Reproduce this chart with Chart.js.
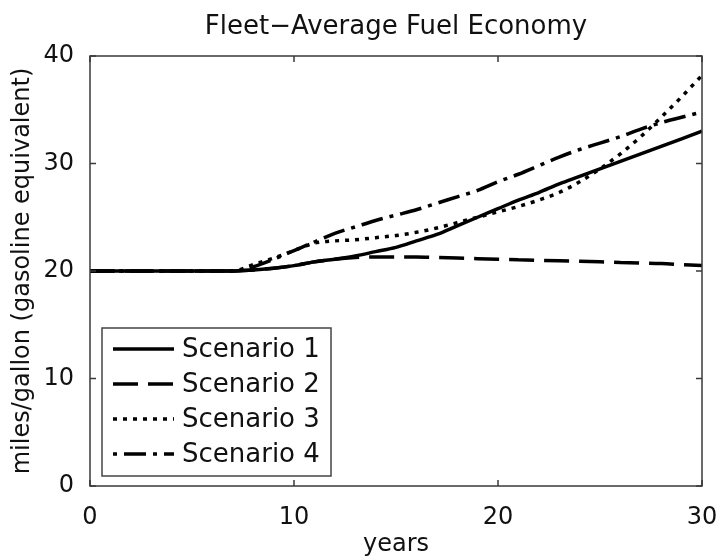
<!DOCTYPE html>
<html>
<head>
<meta charset="utf-8">
<script src="https://cdn.jsdelivr.net/npm/chart.js@4"></script>
<style>
  html, body { margin: 0; padding: 0; background: #fff; }
  #wrap { width: 720px; height: 560px; }
</style>
</head>
<body>
<div id="wrap"><canvas id="myChart" width="720" height="560"></canvas></div>
<script>
// data
const years = [0,1,2,3,4,5,6,7,8,9,10,11,12,13,14,15,16,17,18,19,20,21,22,23,24,25,26,27,28,29,30];
const scenario1 = [20,20,20,20,20,20,20,20,20.1,20.25,20.5,20.85,21.1,21.4,21.8,22.2,22.8,23.4,24.2,25.0,25.8,26.6,27.3,28.1,28.8,29.5,30.2,30.9,31.6,32.3,33.0];
const scenario2 = [20,20,20,20,20,20,20,20,20.1,20.25,20.5,20.85,21.1,21.25,21.3,21.3,21.3,21.25,21.2,21.15,21.1,21.05,21.0,20.95,20.9,20.85,20.8,20.75,20.7,20.6,20.5];
const scenario3 = [20,20,20,20,20,20,20,20,20.6,21.2,21.9,22.6,22.8,22.9,23.1,23.3,23.6,24.0,24.5,25.0,25.5,26.0,26.6,27.3,28.3,29.5,30.9,32.5,34.3,36.2,38.2];
const scenario4 = [20,20,20,20,20,20,20,20,20.4,21.1,21.9,22.7,23.5,24.1,24.7,25.2,25.7,26.3,26.9,27.5,28.3,29.0,29.8,30.6,31.3,31.9,32.5,33.2,33.8,34.3,34.8];
const names = ['Scenario 1', 'Scenario 2', 'Scenario 3', 'Scenario 4'];
const dashes = [[], [25, 10], [4, 6], [22, 7, 4, 7]];
const legendOffsets = [0, 0, 0, 29]; // so the dash-dot sample starts on a dot
const xTicks = [0, 10, 20, 30];
const yTicks = [0, 10, 20, 30, 40];
const chartTitle = 'Fleet\u2212Average Fuel Economy';

const FONT = 'DejaVu Sans';

function toPts(arr) {
    return years.map(function(y, i) { return {x: y, y: arr[i]}; });
}

// axes box with inward ticks on all sides, like matlab
const boxPlugin = {
    id: 'boxPlugin',
    afterDatasetsDraw(chart) {
        const ctx = chart.ctx;
        const a = chart.chartArea;
        const xs = chart.scales.x, ys = chart.scales.y;
        ctx.save();

        // title centred over the axes
        ctx.fillStyle = '#111';
        ctx.font = '26px "' + FONT + '"';
        ctx.textAlign = 'center';
        ctx.textBaseline = 'middle';
        ctx.fillText(chartTitle, (a.left + a.right) / 2, 27);

        ctx.strokeStyle = '#3a3a3a';
        ctx.lineWidth = 1.5;
        ctx.strokeRect(a.left, a.top, a.right - a.left, a.bottom - a.top);
        ctx.beginPath();
        xTicks.forEach(function(v) {
            const px = xs.getPixelForValue(v);
            ctx.moveTo(px, a.bottom); ctx.lineTo(px, a.bottom - 6);
            ctx.moveTo(px, a.top); ctx.lineTo(px, a.top + 6);
        });
        yTicks.forEach(function(v) {
            const py = ys.getPixelForValue(v);
            ctx.moveTo(a.left, py); ctx.lineTo(a.left + 6, py);
            ctx.moveTo(a.right, py); ctx.lineTo(a.right - 6, py);
        });
        ctx.stroke();

        // legend box inside the plot, lower left
        const bx = a.left + 12, bw = 229, bh = 148;
        const by = a.bottom - 10 - bh;
        ctx.fillStyle = '#fff';
        ctx.fillRect(bx, by, bw, bh);
        ctx.strokeStyle = '#444';
        ctx.lineWidth = 1.5;
        ctx.strokeRect(bx, by, bw, bh);
        chart.data.datasets.forEach(function(ds, i) {
            const ly = by + 21 + i * 35;
            ctx.beginPath();
            ctx.setLineDash(ds.borderDash || []);
            ctx.lineDashOffset = legendOffsets[i];
            ctx.strokeStyle = ds.borderColor;
            ctx.lineWidth = ds.borderWidth;
            ctx.moveTo(bx + 11, ly);
            ctx.lineTo(bx + 72, ly);
            ctx.stroke();
            ctx.setLineDash([]);
            ctx.lineDashOffset = 0;
            ctx.fillStyle = '#111';
            ctx.font = '26px "' + FONT + '"';
            ctx.textBaseline = 'middle';
            ctx.textAlign = 'left';
            ctx.fillText(ds.label, bx + 80, ly + 1);
        });
        ctx.restore();
    }
};

const series = [scenario1, scenario2, scenario3, scenario4];
const ctx = document.getElementById('myChart').getContext('2d');
const myChart = new Chart(ctx, {
    type: 'line',
    data: {
        datasets: series.map(function(s, i) {
            return {
                label: names[i],
                data: toPts(s),
                borderColor: '#000',
                borderWidth: 3.5,
                borderDash: dashes[i],
                borderCapStyle: 'butt',
                pointRadius: 0,
                fill: false,
                cubicInterpolationMode: 'monotone'
            };
        })
    },
    plugins: [boxPlugin],
    options: {
        responsive: false,
        animation: false,
        layout: { padding: { left: 0, right: 18, top: 56, bottom: 0 } },
        plugins: {
            legend: { display: false },
            tooltip: { enabled: false },
            title: { display: false }
        },
        scales: {
            x: {
                type: 'linear',
                min: 0, max: 30,
                afterBuildTicks: function(s) { s.ticks = xTicks.map(function(v) { return {value: v}; }); },
                afterFit: function(s) { s.height = 74; s.paddingLeft = 0; s.paddingRight = 0; },
                grid: { display: false },
                border: { display: false },
                ticks: { color: '#111', padding: 9, maxRotation: 0, font: { family: FONT, size: 24 } },
                title: {
                    display: true, text: 'years', color: '#111',
                    font: { family: FONT, size: 24 },
                    padding: { top: 0, bottom: 1 }
                }
            },
            y: {
                type: 'linear',
                min: 0, max: 40,
                afterBuildTicks: function(s) { s.ticks = yTicks.map(function(v) { return {value: v}; }); },
                afterFit: function(s) { s.width = 90; s.paddingTop = 0; s.paddingBottom = 0; },
                grid: { display: false },
                border: { display: false },
                ticks: { color: '#111', padding: 8, font: { family: FONT, size: 24 } },
                title: {
                    display: true, text: 'miles/gallon (gasoline equivalent)', color: '#111',
                    font: { family: FONT, size: 24 },
                    padding: { top: 8, bottom: 0 }
                }
            }
        }
    }
});
</script>
</body>
</html>
